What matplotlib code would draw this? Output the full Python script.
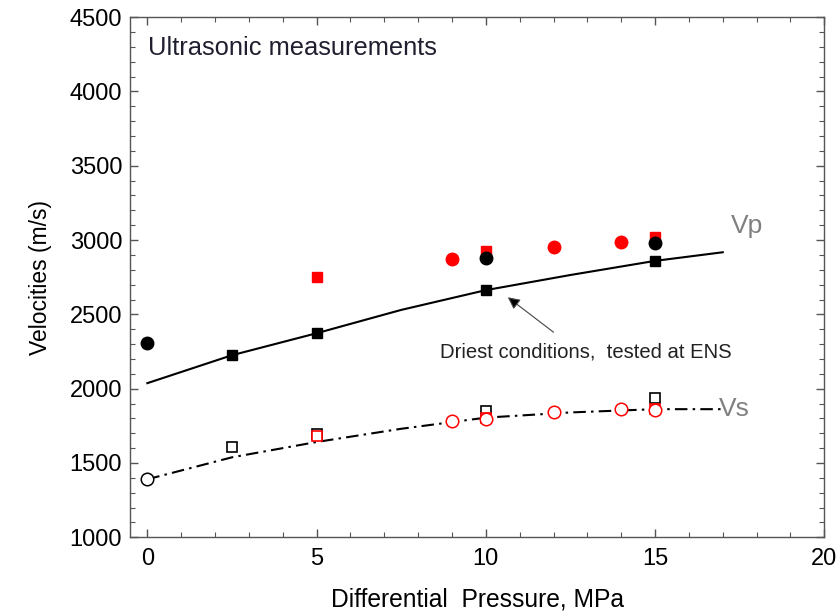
import matplotlib
matplotlib.use("Agg")
import matplotlib.pyplot as plt
from matplotlib.ticker import MultipleLocator

plt.rcParams['font.family'] = ['Liberation Sans', 'DejaVu Sans']

# Vp fitted curve
vp_line_x = [0, 2.5, 5, 7.5, 10, 12.5, 15, 17]
vp_line_y = [2037, 2225, 2373, 2530, 2663, 2765, 2860, 2918]
# Vs fitted curve
vs_line_x = [0, 2.5, 5, 7.5, 10, 12.5, 15, 17]
vs_line_y = [1390, 1538, 1641, 1730, 1805, 1840, 1862, 1862]

# Vp data
vp_black_sq_x = [2.5, 5, 10, 15]
vp_black_sq_y = [2225, 2373, 2665, 2860]
vp_black_circ_x = [0, 10, 15]
vp_black_circ_y = [2306, 2878, 2979]
vp_red_sq_x = [5, 10, 15]
vp_red_sq_y = [2750, 2925, 3019]
vp_red_circ_x = [9, 12, 14]
vp_red_circ_y = [2871, 2952, 2986]

# Vs data
vs_black_circ_x = [0]
vs_black_circ_y = [1390]
vs_black_sq_x = [2.5, 5, 10, 15]
vs_black_sq_y = [1606, 1693, 1848, 1935]
vs_red_sq_x = [5, 10, 15]
vs_red_sq_y = [1680, 1800, 1862]
vs_red_circ_x = [9, 10, 12, 14, 15]
vs_red_circ_y = [1781, 1794, 1840, 1862, 1855]

fig = plt.figure(figsize=(8.36, 6.14), dpi=100)
ax = fig.add_axes([0.156, 0.125, 0.830, 0.847])

ax.plot(vp_line_x, vp_line_y, color='black', lw=1.5, zorder=2)
ax.plot(vs_line_x, vs_line_y, color='black', lw=1.5, ls=(0, (6, 2.5, 1.2, 2.5)), zorder=2)

ax.plot(vp_red_sq_x, vp_red_sq_y, 's', color='red', ms=7, mec='red', zorder=3)
ax.plot(vp_black_circ_x, vp_black_circ_y, 'o', color='black', ms=9, zorder=4)
ax.plot(vp_red_circ_x, vp_red_circ_y, 'o', color='red', ms=9, zorder=4)
ax.plot(vp_black_sq_x, vp_black_sq_y, 's', color='black', ms=7, zorder=4)

ax.plot(vs_black_sq_x, vs_black_sq_y, 's', mfc='white', mec='black', mew=1.2, ms=7, zorder=3)
ax.plot(vs_red_sq_x, vs_red_sq_y, 's', mfc='white', mec='red', mew=1.2, ms=7, zorder=4)
ax.plot(vs_red_circ_x, vs_red_circ_y, 'o', mfc='white', mec='red', mew=1.1, ms=9, zorder=4)
ax.plot(vs_black_circ_x, vs_black_circ_y, 'o', mfc='white', mec='black', mew=1.1, ms=9, zorder=4)

ax.set_xlim(-0.5, 20)
ax.set_ylim(1000, 4500)
ax.xaxis.set_major_locator(MultipleLocator(5))
ax.xaxis.set_minor_locator(MultipleLocator(1))
ax.yaxis.set_major_locator(MultipleLocator(500))
ax.yaxis.set_minor_locator(MultipleLocator(100))
ax.tick_params(which='both', direction='in', top=True, right=True, color='#555555')
ax.tick_params(which='major', length=6, width=1, labelsize=17)
ax.tick_params(axis='x', which='major', pad=8)
ax.tick_params(axis='y', which='major', pad=6)
ax.tick_params(which='minor', length=3.5, width=0.8)
for s in ax.spines.values():
    s.set_color('#555555')
    s.set_linewidth(1.0)

ax.set_xlabel('Differential  Pressure, MPa', fontsize=17.7, labelpad=12)
ax.set_ylabel('Velocities (m/s)', fontsize=16.5, labelpad=13)

ax.text(0.026, 0.94, 'Ultrasonic measurements', transform=ax.transAxes,
        fontsize=18.4, color='#1f1f2f', ha='left', va='center')
ax.text(17.24, 3046, 'Vp', fontsize=19, color='#808080', ha='left', va='baseline')
ax.text(16.9, 1866, 'Vs', fontsize=19, color='#808080', ha='left', va='center')

ax.annotate('', xy=(10.65, 2615), xytext=(12.0, 2380),
            arrowprops=dict(arrowstyle='-|>', color='#444444', lw=0.8,
                            mutation_scale=18, shrinkA=0, shrinkB=0, fc='black'))
ax.text(8.64, 2245, 'Driest conditions,  tested at ENS', fontsize=14.6,
        color='#222222', ha='left', va='center')

fig.savefig('out.png', dpi=100)
